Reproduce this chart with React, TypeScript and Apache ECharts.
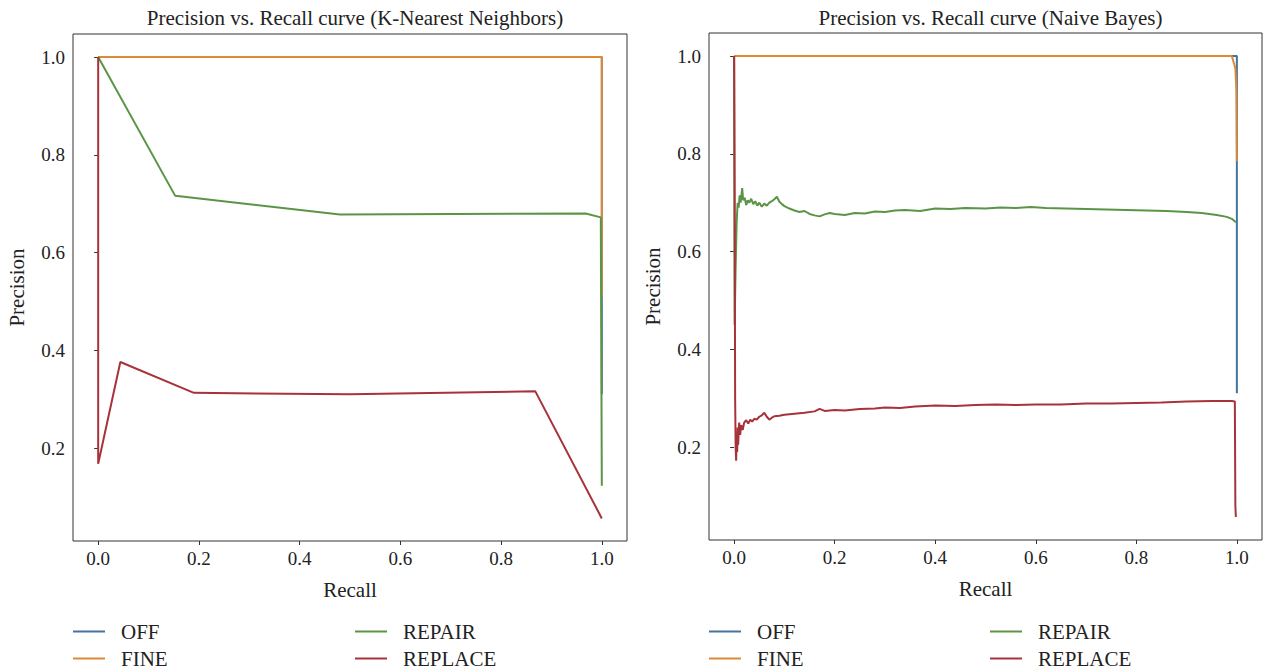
import React, { useEffect, useRef } from "react";
import * as echarts from "echarts";

const seriesNames = ["OFF", "FINE", "REPAIR", "REPLACE"];
const seriesColors = ["#44739e", "#db8a38", "#5a9545", "#a8323a"];
const tickValuesX = [0, 0.2, 0.4, 0.6, 0.8, 1.0];
const tickValuesY = [0.2, 0.4, 0.6, 0.8, 1.0];
const titles = [
  "Precision vs. Recall curve (K-Nearest Neighbors)",
  "Precision vs. Recall curve (Naive Bayes)",
];

// K-Nearest Neighbors
const knnOff = [[0, 1], [1, 1], [1, 0.31]];
const knnFine = [[0, 1], [1, 1], [1, 0.51]];
const knnRepair = [[0, 1], [0.153, 0.716], [0.48, 0.678], [0.968, 0.68], [0.998, 0.672], [1, 0.123]];
const knnReplace = [[0, 1], [0, 0.168], [0.044, 0.376], [0.19, 0.313], [0.5, 0.31], [0.868, 0.316], [1, 0.056]];

// Naive Bayes
const nbOff = [[0, 1], [1, 1], [1, 0.31]];
const nbFine = [[0, 1], [0.99, 1], [0.997, 0.975], [0.999, 0.93], [1, 0.785]];
const nbRepair = [
  [0, 1], [0.001, 0.45], [0.003, 0.57], [0.005, 0.66], [0.007, 0.7], [0.009, 0.69], [0.011, 0.715],
  [0.013, 0.7], [0.016, 0.73], [0.018, 0.705], [0.021, 0.71], [0.024, 0.695], [0.027, 0.705],
  [0.03, 0.7], [0.034, 0.708], [0.038, 0.697], [0.042, 0.703], [0.046, 0.694], [0.05, 0.7],
  [0.055, 0.692], [0.06, 0.698], [0.065, 0.694], [0.07, 0.7], [0.075, 0.703], [0.08, 0.707],
  [0.085, 0.712], [0.09, 0.702], [0.095, 0.697], [0.1, 0.693], [0.11, 0.688], [0.12, 0.684],
  [0.13, 0.681], [0.14, 0.683], [0.15, 0.677], [0.16, 0.674], [0.17, 0.672], [0.18, 0.676],
  [0.19, 0.679], [0.2, 0.677], [0.22, 0.675], [0.24, 0.679], [0.26, 0.678], [0.28, 0.682],
  [0.3, 0.681], [0.32, 0.684], [0.34, 0.685], [0.37, 0.683], [0.4, 0.688], [0.43, 0.687],
  [0.46, 0.689], [0.5, 0.688], [0.53, 0.69], [0.56, 0.689], [0.59, 0.691], [0.62, 0.689],
  [0.66, 0.688], [0.7, 0.687], [0.74, 0.686], [0.78, 0.685], [0.82, 0.684], [0.86, 0.683],
  [0.9, 0.681], [0.93, 0.679], [0.96, 0.675], [0.98, 0.671], [0.99, 0.667], [0.998, 0.66],
];
const nbReplace = [
  [0, 1], [0.001, 0.72], [0.002, 0.3], [0.003, 0.2], [0.004, 0.172], [0.005, 0.22], [0.006, 0.19],
  [0.007, 0.24], [0.008, 0.205], [0.009, 0.23], [0.01, 0.25], [0.012, 0.225], [0.014, 0.245],
  [0.017, 0.235], [0.02, 0.25], [0.024, 0.255], [0.028, 0.248], [0.032, 0.256], [0.036, 0.252],
  [0.04, 0.258], [0.045, 0.256], [0.05, 0.262], [0.055, 0.265], [0.06, 0.27], [0.065, 0.262],
  [0.07, 0.256], [0.075, 0.26], [0.08, 0.263], [0.09, 0.264], [0.1, 0.266], [0.12, 0.268],
  [0.14, 0.27], [0.16, 0.273], [0.17, 0.278], [0.18, 0.274], [0.2, 0.276], [0.22, 0.275],
  [0.25, 0.278], [0.28, 0.279], [0.3, 0.281], [0.33, 0.28], [0.36, 0.283], [0.4, 0.285],
  [0.44, 0.284], [0.48, 0.286], [0.52, 0.287], [0.56, 0.286], [0.6, 0.287], [0.65, 0.287],
  [0.7, 0.289], [0.75, 0.289], [0.8, 0.29], [0.85, 0.291], [0.9, 0.293], [0.95, 0.294],
  [0.99, 0.294], [0.996, 0.293], [0.997, 0.08], [0.998, 0.057],
];

const knnData = [knnOff, knnFine, knnRepair, knnReplace];
const nbData = [nbOff, nbFine, nbRepair, nbReplace];

const FONT = "Liberation Serif";
const TEXT_COLOR = "#222";

export default function App() {
  const ref = useRef<HTMLDivElement>(null);
  useEffect(() => {
    if (!ref.current) return;
    const chart = echarts.init(ref.current, undefined, { renderer: "svg" });
    const grids = [
      { left: 73, top: 34, width: 554, height: 507 },
      { left: 709, top: 33, width: 553, height: 507 },
    ];
    const xAxis = grids.map((_, i) => ({
      type: "value",
      gridIndex: i,
      min: -0.05,
      max: 1.05,
      name: "Recall",
      nameLocation: "middle",
      nameGap: 38,
      nameTextStyle: { fontFamily: FONT, fontSize: 21, color: TEXT_COLOR },
      axisLine: { show: false },
      splitLine: { show: false },
      axisTick: { show: true, length: 4, inside: false, customValues: tickValuesX, lineStyle: { color: "#333" } },
      axisLabel: {
        customValues: tickValuesX,
        formatter: (v: number) => v.toFixed(1),
        fontFamily: FONT,
        fontSize: 19,
        color: TEXT_COLOR,
        margin: 8,
      },
    }));
    const yAxis = grids.map((_, i) => ({
      type: "value",
      gridIndex: i,
      min: 0.0098,
      max: 1.0472,
      name: "Precision",
      nameLocation: "middle",
      nameGap: 46,
      nameTextStyle: { fontFamily: FONT, fontSize: 21, color: TEXT_COLOR },
      axisLine: { show: false },
      splitLine: { show: false },
      axisTick: { show: true, length: 4, inside: false, customValues: tickValuesY, lineStyle: { color: "#333" } },
      axisLabel: {
        customValues: tickValuesY,
        formatter: (v: number) => v.toFixed(1),
        fontFamily: FONT,
        fontSize: 19,
        color: TEXT_COLOR,
        margin: 8,
      },
    }));
    const series: any[] = [];
    [knnData, nbData].forEach((set, gi) => {
      set.forEach((d, si) => {
        series.push({
          type: "line",
          name: seriesNames[si],
          xAxisIndex: gi,
          yAxisIndex: gi,
          data: d,
          symbol: "none",
          lineStyle: { width: 2, color: seriesColors[si] },
          itemStyle: { color: seriesColors[si] },
          z: 2 + si,
        });
      });
    });
    const legendPos = [
      { x: 73, col: 0 },
      { x: 355, col: 1 },
      { x: 709, col: 0 },
      { x: 990, col: 1 },
    ];
    const legend: any[] = [];
    legendPos.forEach((p) => {
      [0, 1].forEach((row) => {
        const name = seriesNames[p.col * 2 + row];
        legend.push({
          data: [name],
          left: p.x,
          top: 621 + row * 27,
          padding: 0,
          icon: "rect",
          itemWidth: 32,
          itemHeight: 2,
          selectedMode: false,
          textStyle: { fontFamily: FONT, fontSize: 21, color: TEXT_COLOR, padding: [0, 0, 0, 11] },
        });
      });
    });
    chart.setOption({
      animation: false,
      backgroundColor: "#fff",
      title: titles.map((t, i) => ({
        text: t,
        left: grids[i].left + grids[i].width / 2,
        top: 2,
        textAlign: "center",
        textStyle: { fontFamily: FONT, fontSize: 21, fontWeight: "normal", color: TEXT_COLOR },
      })),
      grid: grids.map((g) => ({ ...g, show: true, borderColor: "#333", borderWidth: 1, backgroundColor: "transparent" })),
      xAxis,
      yAxis,
      legend,
      series,
    });
    return () => chart.dispose();
  }, []);
  return <div ref={ref} style={{ width: 1264, height: 671, position: "absolute", left: 0, top: 0 }} />;
}
